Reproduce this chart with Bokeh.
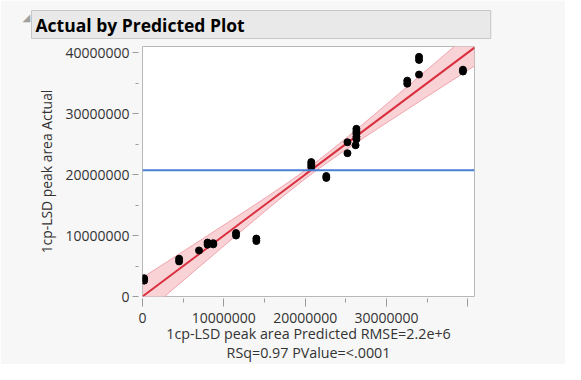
import numpy as np
from bokeh.plotting import figure
from bokeh.models import Range1d, FixedTicker, Span, Title
from bokeh.embed import file_html
from bokeh.resources import INLINE

# ---- data ----
predicted = [0.2e6, 0.2e6, 4.5e6, 4.5e6, 6.95e6, 8.0e6, 8.0e6, 8.7e6, 8.7e6,
             11.5e6, 11.5e6, 14.0e6, 14.0e6, 20.75e6, 20.75e6, 20.75e6,
             22.6e6, 22.6e6, 25.2e6, 25.2e6, 26.2e6,
             26.3e6, 26.3e6, 26.3e6, 26.3e6, 26.3e6,
             32.55e6, 32.55e6, 34.0e6, 34.0e6, 34.0e6, 39.4e6, 39.4e6]
actual = [3.0e6, 2.6e6, 6.2e6, 5.75e6, 7.55e6, 8.85e6, 8.5e6, 8.75e6, 8.55e6,
          10.4e6, 10.0e6, 9.5e6, 9.1e6, 22.05e6, 21.65e6, 21.25e6,
          19.75e6, 19.45e6, 25.3e6, 23.5e6, 24.8e6,
          27.5e6, 27.1e6, 26.7e6, 26.2e6, 25.8e6,
          35.4e6, 34.9e6, 39.3e6, 38.8e6, 36.4e6, 37.2e6, 36.9e6]

mean_actual = 20.7e6          # horizontal mean line
fit_slope = 1.0               # actual = predicted line
fit_intercept = 0.0
band_half_at_mean = 0.7e6     # confidence curve half width at the mean
band_half_at_zero = 3.1e6     # confidence curve half width at predicted = 0

x_ticks = [0, 10000000, 20000000, 30000000, 40000000]
x_tick_labels = ["0", "10000000", "20000000", "30000000", ""]
y_ticks = [0, 10000000, 20000000, 30000000, 40000000]
y_tick_labels = ["0", "10000000", "20000000", "30000000", "40000000"]
minor_ticks = [5000000, 15000000, 25000000, 35000000]

title_text = "Actual by Predicted Plot"
x_title_lines = ["1cp-LSD peak area Predicted RMSE=2.2e+6", "RSq=0.97 PValue=<.0001"]
y_title = "1cp-LSD peak area Actual"

FONT = "Open Sans"
BG = "#f7f7f7"
FRAME_W, FRAME_H = 332, 251

p = figure(width=565, height=364, output_backend="svg", toolbar_location=None,
           x_range=Range1d(0, 40.82e6), y_range=Range1d(0, 41.0e6),
           min_border_left=142, min_border_right=565 - 142 - FRAME_W,
           min_border_top=46, min_border_bottom=364 - 46 - FRAME_H)
p.border_fill_color = BG
p.background_fill_color = "white"
p.outline_line_color = "#b8b8b8"
p.xgrid.visible = False
p.ygrid.visible = False

# title bar
p.title.text = title_text
p.title.align = "left"
p.title.offset = -111
p.title.standoff = 16
p.title.text_font = FONT
p.title.text_font_size = "17.5px"
p.title.text_font_style = "bold"
p.title.text_color = "black"
p.title.background_fill_color = "#e9e9e9"
p.title.border_line_color = "#c6c6c6"
p.title.padding = dict(left=4, right=246, top=2, bottom=2)

# disclosure triangle (left-side title, drawn rotated)
tri = Title(text="\u25e3", align="right", offset=-32, standoff=7,
            text_font="DejaVu Sans", text_font_size="10px",
            text_color="#a0a0a0", text_font_style="normal")
p.add_layout(tri, "left")

# confidence curves
xs = np.linspace(0, 40.82e6, 200)
k = np.sqrt((band_half_at_zero**2 - band_half_at_mean**2)) / mean_actual
half = np.sqrt(band_half_at_mean**2 + (k * (xs - mean_actual))**2)
fit = fit_intercept + fit_slope * xs
upper = fit + half
lower = fit - half
p.varea(x=xs, y1=lower, y2=upper, fill_color="#f8cdd2", fill_alpha=0.9)
p.line(xs, upper, line_color="#ef9fa9", line_width=1)
p.line(xs, lower, line_color="#ef9fa9", line_width=1)
p.line(xs, fit, line_color="#d9303f", line_width=2)

p.add_layout(Span(location=mean_actual, dimension="width",
                  line_color="#4a7fd6", line_width=2))

p.scatter(predicted, actual, size=7, color="black")

for ax, ticks, labels in ((p.xaxis, x_ticks, x_tick_labels), (p.yaxis, y_ticks, y_tick_labels)):
    ax.ticker = FixedTicker(ticks=ticks, minor_ticks=minor_ticks)
    ax.major_label_overrides = {t: l for t, l in zip(ticks, labels)}
    ax.axis_line_color = None
    ax.major_tick_line_color = "#9a9a9a"
    ax.minor_tick_line_color = "#9a9a9a"
    ax.major_label_text_font = FONT
    ax.major_label_text_font_size = "14px"
    ax.major_label_text_color = "#333333"
    ax.axis_label_text_font = FONT
    ax.axis_label_text_font_style = "normal"
    ax.axis_label_text_color = "#333333"

p.xaxis.axis_label_text_font_size = "14.3px"
p.yaxis.axis_label_text_font_size = "13.9px"
p.xaxis.major_tick_in = -2
p.xaxis.major_tick_out = 10
p.xaxis.minor_tick_in = -2
p.xaxis.minor_tick_out = 6
p.yaxis.major_tick_in = -4
p.yaxis.major_tick_out = 10
p.yaxis.minor_tick_in = -4
p.yaxis.minor_tick_out = 7
p.xaxis.major_label_standoff = 6
p.yaxis.major_label_standoff = 3
p.yaxis.axis_label = y_title
p.yaxis.axis_label_standoff = 6
p.xaxis.axis_label = "\n".join(x_title_lines)
p.xaxis.axis_label_text_line_height = 1.0
p.xaxis.axis_label_standoff = -2

open("out.html", "w").write(file_html(p, INLINE))
